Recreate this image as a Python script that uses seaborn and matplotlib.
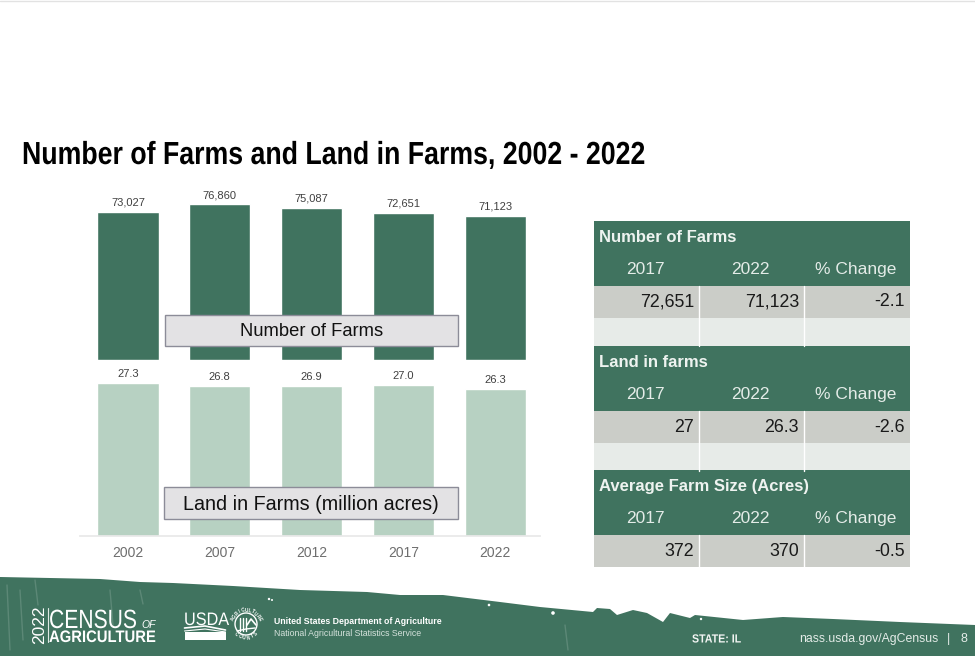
import numpy as np
import pandas as pd
import matplotlib
matplotlib.use("Agg")
import matplotlib.pyplot as plt
import matplotlib.patheffects as pe
from matplotlib.patches import Rectangle, Circle, Polygon
from matplotlib.transforms import Affine2D
import seaborn as sns

years = ["2002", "2007", "2012", "2017", "2022"]
farms = [73027, 76860, 75087, 72651, 71123]
land = [27.3, 26.8, 26.9, 27.0, 26.3]

farm_row = ["72,651", "71,123", "-2.1"]
land_row = ["27", "26.3", "-2.6"]
size_row = ["372", "370", "-0.5"]
table_head = ["2017", "2022", "% Change"]

GREEN = "#40735f"
LIGHT = "#b7d1c2"
W, H = 975, 656

sns.set_theme(style="white")
plt.rcParams["font.family"] = ["Liberation Sans", "DejaVu Sans"]

fig = plt.figure(figsize=(9.75, 6.56), dpi=100)


class Squeeze(pe.AbstractPathEffect):
    # no narrow font installed, so squeeze the glyphs sideways around the anchor
    def __init__(self, sx, x0):
        super().__init__()
        self.sx = sx
        self.x0 = x0

    def draw_path(self, renderer, gc, tpath, affine, rgbFace=None):
        squeezed = affine + Affine2D().translate(-self.x0, 0).scale(self.sx, 1).translate(self.x0, 0)
        renderer.draw_path(gc, tpath, squeezed, rgbFace)


def px_axes(left, top, right, bottom):
    return fig.add_axes([left / W, 1 - bottom / H, (right - left) / W, (bottom - top) / H])


# farms bars
ax1 = px_axes(80, 190, 540, 360)
df1 = pd.DataFrame({"year": years, "farms": farms})
sns.barplot(data=df1, x="year", y="farms", color=GREEN, saturation=1, width=0.665, ax=ax1)
ax1.set_xlim(-0.523, 4.49)
ax1.set_ylim(0, 83900)
ax1.bar_label(ax1.containers[0], fmt="{:,.0f}", padding=3, fontsize=8, color="#404040")
ax1.axis("off")

# land bars
ax2 = px_axes(80, 365, 540, 536)
df2 = pd.DataFrame({"year": years, "land": land})
sns.barplot(data=df2, x="year", y="land", color=LIGHT, saturation=1, width=0.665, ax=ax2)
ax2.set_xlim(-0.523, 4.49)
ax2.set_ylim(0, 30.6)
ax2.bar_label(ax2.containers[0], fmt="{:.1f}", padding=3, fontsize=8, color="#404040")
ax2.set_xlabel("")
ax2.set_ylabel("")
ax2.set_yticks([])
ax2.tick_params(axis="x", length=0, labelsize=10, labelcolor="#6e6e6e", pad=7)
sns.despine(ax=ax2, left=True)
ax2.spines["bottom"].set_color("#e8e8e8")

# everything else is drawn in pixel space on top
ov = fig.add_axes([0, 0, 1, 1])
ov.set_xlim(0, W)
ov.set_ylim(H, 0)
ov.axis("off")
ov.patch.set_alpha(0)

ov.plot([0, W], [0.5, 0.5], color="#e2e2e2", lw=1)

ov.text(22, 164, "Number of Farms and Land in Farms, 2002 - 2022", fontsize=23, fontweight="bold",
        color="black", va="baseline", path_effects=[Squeeze(0.836, 22)])

# label boxes over the bars
for x0, y0, w, h, label, fs in [(165, 315, 293, 31, "Number of Farms", 13.2),
                                (164, 487, 294, 32, "Land in Farms (million acres)", 14.2)]:
    ov.add_patch(Rectangle((x0, y0), w, h, fc="#e3e2e4", ec="#8c8c98", lw=1))
    ov.text(x0 + w / 2, y0 + h / 2 + 1, label, fontsize=fs, color="#111111", ha="center", va="center")

# right hand tables
col_x = [594, 699, 804, 910]


def draw_block(top, title, row, blank):
    ov.add_patch(Rectangle((594, top), 316, 65, fc=GREEN, ec="none"))
    ov.text(599, top + 16.5, title, fontsize=12, fontweight="bold", color="#eef3f0", va="center")
    for i, lab in enumerate(table_head):
        ov.text((col_x[i] + col_x[i + 1]) / 2 - 1, top + 48.5, lab, fontsize=12.5, color="#e4ece8",
                ha="center", va="center")
    y = top + 65
    for i, val in enumerate(row):
        ov.add_patch(Rectangle((col_x[i], y), col_x[i + 1] - col_x[i], 32, fc="#cbcdc8", ec="none"))
        ov.text(col_x[i + 1] - 5, y + 16, val, fontsize=12.8, color="#1a1a1a", ha="right", va="center")
        if blank:
            ov.add_patch(Rectangle((col_x[i], y + 32), col_x[i + 1] - col_x[i], 28, fc="#e7ebe8", ec="none"))
    for x in col_x[1:3]:
        ov.plot([x, x], [y, y + (60 if blank else 32)], color="white", lw=1)


draw_block(221, "Number of Farms", farm_row, True)
draw_block(346, "Land in farms", land_row, True)
draw_block(470, "Average Farm Size (Acres)", size_row, False)

# torn footer band
edge = [(0, 577), (50, 578), (100, 579), (140, 582), (173, 583), (233, 586), (300, 590), (367, 592),
        (400, 595), (443, 595), (500, 602), (540, 607), (593, 612), (597, 608), (610, 609), (617, 615),
        (633, 610), (647, 613), (663, 622), (670, 613), (690, 618), (695, 615), (743, 620), (783, 617),
        (833, 619), (900, 622), (975, 625)]
ov.add_patch(Polygon(edge + [(W, H), (0, H)], closed=True, fc=GREEN, ec="none"))

# worn streaks and specks on the band
for x, y0, y1 in [(7, 585, 650), (20, 590, 640), (35, 580, 605), (110, 590, 625), (140, 590, 604), (565, 625, 650)]:
    ov.plot([x, x + 3], [y0, y1], color="#7fa294", lw=1, alpha=0.45)
for x, y, r in [(269, 599, 1.2), (272, 600, 1), (553, 613, 1.8), (701, 619, 1.2), (489, 605, 1.3)]:
    ov.add_patch(Circle((x, y), r, fc="white", ec="none"))

# census logo
ov.text(40, 625, "2022", fontsize=12.5, color="white", rotation=90, ha="center", va="center")
ov.plot([47.5, 47.5], [608, 642], color="#dfe9e4", lw=0.8)
ov.text(49, 628, "CENSUS", fontsize=19, color="white", va="baseline", path_effects=[Squeeze(0.8, 49)])
ov.text(141, 628, "OF", fontsize=7.5, color="white", va="baseline", style="italic")
ov.text(49, 642, "AGRICULTURE", fontsize=12, color="white", va="baseline", fontweight="bold",
        path_effects=[Squeeze(0.89, 49)])

# usda shield and seal
ov.text(184, 625, "USDA", fontsize=13, color="white", va="baseline", family=["Liberation Sans"],
        path_effects=[Squeeze(0.9, 184)])
ov.add_patch(Rectangle((184.5, 632), 41, 8, fc="white", ec="none"))
ov.plot([184.5, 205, 225.5], [628, 626, 630], color="white", lw=1.2)
ov.plot([184.5, 205, 225.5], [631, 629, 632], color="white", lw=0.8)

cx, cy = 246, 624
ov.add_patch(Circle((cx, cy), 11, fc="none", ec="white", lw=1))
for word, start, stop, flip in [("AGRICULTURE", 200, 340, False), ("COUNTS", 135, 45, True)]:
    for ch, ang in zip(word, np.linspace(start, stop, len(word))):
        a = np.radians(ang)
        rot = 270 - ang if not flip else 90 - ang
        ov.text(cx + 14 * np.cos(a), cy + 14 * np.sin(a), ch, fontsize=3.4, fontweight="bold", color="white",
                ha="center", va="center", rotation=rot, rotation_mode="anchor")
for x in [-6, -3, 0]:
    ov.plot([cx + x, cx + x], [cy - 6, cy + 7], color="white", lw=1)
ov.plot([cx + 1, cx + 5, cx + 10], [cy + 1, cy - 5, cy + 1], color="white", lw=1.2)
ov.plot([cx - 9, cx, cx + 9], [cy + 7, cy + 5, cy + 4], color="white", lw=1)

ov.text(274, 622, "United States Department of Agriculture", fontsize=6.3, fontweight="bold", color="white", va="center")
ov.text(274, 633, "National Agricultural Statistics Service", fontsize=6.3, color="#d5e2dc", va="center")

ov.text(692, 639.5, "STATE: IL", fontsize=8.5, fontweight="bold", color="#f2f5f3", va="center",
        path_effects=[Squeeze(0.9, 692)])
ov.text(799, 639, "nass.usda.gov/AgCensus", fontsize=8.8, color="#e4ece8", va="center")
ov.text(949, 639, "|", fontsize=9, color="#e4ece8", va="center", ha="center")
ov.text(964, 639, "8", fontsize=9, color="#e4ece8", va="center", ha="center")

fig.savefig("out.png", dpi=100)
